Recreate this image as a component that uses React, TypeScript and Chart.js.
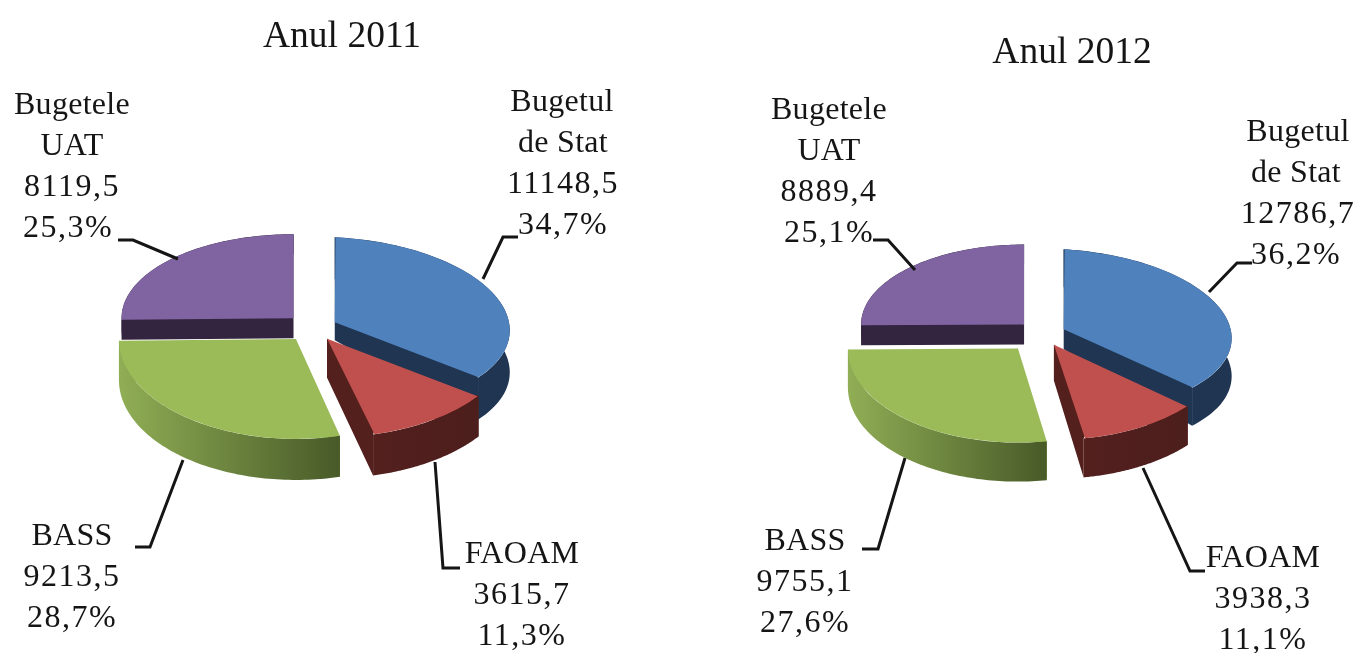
import React, { useEffect, useRef } from "react";
import { Chart, registerables } from "chart.js";

Chart.register(...registerables);

const categoryLines = [["Bugetul", "de Stat"], ["FAOAM"], ["BASS"], ["Bugetele", "UAT"]];
const values2011 = [11148.5, 3615.7, 9213.5, 8119.5];
const values2012 = [12786.7, 3938.3, 9755.1, 8889.4];
const shares2011 = [34.7, 11.3, 28.7, 25.3];
const shares2012 = [36.2, 11.1, 27.6, 25.1];
const faceColors = ["#4F81BD", "#C0504D", "#9BBB59", "#8064A2"];
const wallColors = [
  ["#1F3552", "#1F3552"],
  ["#53201E", "#4C1E1C"],
  ["#90AE55", "#485A28"],
  ["#33243F", "#33243F"],
];
const drawOrder = [0, 3, 2, 1];
const FONT = "'Liberation Serif', 'Times New Roman', serif";
const INK = "#151515";

const num = (v: number) => v.toFixed(1).replace(".", ",");
const pct = (v: number) => num(v) + "%";

type Layout = {
  originX: number; width: number; title: string; titleX: number; titleY: number;
  padding: any; values: number[]; shares: number[]; offsets: number[];
  rx: number[]; ry: number[]; skew: number[]; depthIn: number[]; depthOut: number[];
  labelX: number[][]; labelY: number[]; leaders: number[][][];
};

const panels: Layout[] = [
  {
    originX: 0, width: 676, title: "Anul 2011", titleX: 342, titleY: 37,
    padding: { right: 52, top: 1 },
    values: values2011, shares: shares2011, offsets: [100, 100, 100, 100],
    rx: [175, 185, 177, 172], ry: [85, 99, 100, 84], skew: [8, 0, 0, 0],
    depthIn: [18, 39, 40, 20], depthOut: [42, 41, 41, 20],
    labelX: [[562, 563, 563, 563], [522, 522, 522], [72, 72, 72], [72, 72, 72, 68]],
    labelY: [103, 555, 537, 106],
    leaders: [
      [[483, 279], [503, 237], [518, 237]],
      [[435, 462], [443, 568], [460, 568]],
      [[183, 460], [150, 547], [135, 547]],
      [[118, 240], [133, 240], [178, 259]],
    ],
  },
  {
    originX: 676, width: 677, title: "Anul 2012", titleX: 1072, titleY: 53,
    padding: { left: 54, top: 13 },
    values: values2012, shares: shares2012, offsets: [100, 100, 144, 100],
    rx: [168, 175, 170, 163], ry: [80, 95, 94, 80], skew: [9, 0, 0, 0],
    depthIn: [20, 36, 39, 20], depthOut: [38, 39, 39, 20],
    labelX: [[1298, 1296, 1298, 1296], [1263, 1263, 1263], [805, 805, 805], [829, 829, 829, 829]],
    labelY: [133, 559, 542, 111],
    leaders: [
      [[1209, 292], [1237, 263], [1252, 263]],
      [[1143, 468], [1190, 571], [1205, 571]],
      [[905, 458], [878, 549], [862, 549]],
      [[873, 240], [888, 240], [915, 270]],
    ],
  },
];

function pseudo3d(p: Layout) {
  const geom = (chart: any, i: number) => {
    const el = chart.getDatasetMeta(0).data[i];
    const off = (el.options.offset || 0) / 4;
    const span = el.endAngle - el.startAngle;
    // Chart.js widens an offset arc by this much (see ArcElement.draw).
    const fix = 1 - Math.sin(Math.min(Math.PI, span));
    const outer = el.outerRadius + off * fix;
    const half = (el.startAngle + el.endAngle) / 2;
    const sx = p.rx[i] / outer;
    const sy = p.ry[i] / outer;
    const sk = p.skew[i] / outer;
    const cx = el.x;
    const cy = el.y;
    const ax = Math.cos(half) * off;
    const ay = Math.sin(half) * off;
    const at = (angle: number, r: number) => {
      const lx = ax + Math.cos(angle) * r;
      const ly = ay + Math.sin(angle) * r;
      return [cx + sx * lx, cy + sk * lx + sy * ly];
    };
    return { el, outer, half, sx, sy, sk, cx, cy, at };
  };
  return {
    id: "pseudo3d",
    beforeDatasetsDraw(chart: any) {
      const ctx = chart.ctx;
      for (const i of drawOrder) {
        const g = geom(chart, i);
        const { el, at, outer, half } = g;
        const inside = at(half, outer * 0.6);
        for (const ang of [el.startAngle, el.endAngle]) {
          const a = at(ang, 0);
          const b = at(ang, outer);
          ctx.beginPath();
          ctx.moveTo(inside[0], inside[1]);
          ctx.lineTo(a[0], a[1]);
          ctx.lineTo(a[0], a[1] + p.depthIn[i]);
          ctx.lineTo(b[0], b[1] + p.depthOut[i]);
          ctx.lineTo(b[0], b[1]);
          ctx.closePath();
          ctx.fillStyle = wallColors[i][0];
          ctx.fill();
        }
        const n = 80;
        const rim: number[][] = [];
        for (let k = 0; k <= n; k++) rim.push(at(el.startAngle + ((el.endAngle - el.startAngle) * k) / n, outer));
        const xs = rim.map((q) => q[0]);
        const grad = ctx.createLinearGradient(Math.min(...xs), 0, Math.max(...xs), 0);
        grad.addColorStop(0, wallColors[i][0]);
        grad.addColorStop(1, wallColors[i][1]);
        ctx.beginPath();
        rim.forEach((q, k) => (k ? ctx.lineTo(q[0], q[1]) : ctx.moveTo(q[0], q[1])));
        for (let k = n; k >= 0; k--) ctx.lineTo(rim[k][0], rim[k][1] + p.depthOut[i]);
        ctx.closePath();
        ctx.fillStyle = grad;
        ctx.fill();
      }
      for (const i of drawOrder) {
        const g = geom(chart, i);
        ctx.save();
        ctx.translate(g.cx, g.cy);
        ctx.transform(g.sx, g.sk, 0, g.sy, 0, 0);
        ctx.translate(-g.cx, -g.cy);
        g.el.draw(ctx);
        ctx.restore();
      }
    },
    beforeDatasetDraw() {
      return false;
    },
    afterDraw(chart: any) {
      const ctx = chart.ctx;
      ctx.save();
      ctx.translate(-p.originX, 0);
      ctx.strokeStyle = INK;
      ctx.lineWidth = 3;
      ctx.lineJoin = "miter";
      p.leaders.forEach((pts) => {
        ctx.beginPath();
        pts.forEach((q, k) => (k ? ctx.lineTo(q[0], q[1]) : ctx.moveTo(q[0], q[1])));
        ctx.stroke();
      });
      ctx.fillStyle = INK;
      ctx.textAlign = "center";
      ctx.textBaseline = "middle";
      ctx.font = `37.5px ${FONT}`;
      ctx.fillText(p.title, p.titleX, p.titleY);
      ctx.font = `32px ${FONT}`;
      categoryLines.forEach((cat, i) => {
        const lines = [...cat, num(p.values[i]), pct(p.shares[i])];
        lines.forEach((t, k) => {
          ctx.letterSpacing = k >= cat.length ? "1.5px" : "0.3px";
          ctx.fillText(t, p.labelX[i][k], p.labelY[i] + k * 41);
        });
      });
      ctx.restore();
    },
  };
}

function Panel({ p }: { p: Layout }) {
  const ref = useRef<HTMLCanvasElement>(null);
  useEffect(() => {
    const chart = new Chart(ref.current as HTMLCanvasElement, {
      type: "pie",
      data: {
        labels: categoryLines.map((c) => c.join(" ")),
        datasets: [
          {
            data: p.values,
            backgroundColor: faceColors,
            borderWidth: 0,
            offset: p.offsets,
            radius: 166,
          } as any,
        ],
      },
      options: {
        animation: false,
        responsive: false,
        events: [],
        layout: { padding: p.padding },
        plugins: { legend: { display: false }, tooltip: { enabled: false }, title: { display: false } },
      },
      plugins: [pseudo3d(p) as any],
    });
    return () => chart.destroy();
  }, [p]);
  return (
    <canvas
      ref={ref}
      width={p.width}
      height={653}
      style={{ position: "absolute", left: p.originX, top: 0, width: p.width, height: 653, filter: "blur(0.5px)" }}
    />
  );
}

export default function App() {
  return (
    <div style={{ position: "fixed", left: 0, top: 0, width: 1353, height: 653, background: "#fff", overflow: "hidden" }}>
      {panels.map((p) => (
        <Panel key={p.title} p={p} />
      ))}
    </div>
  );
}
